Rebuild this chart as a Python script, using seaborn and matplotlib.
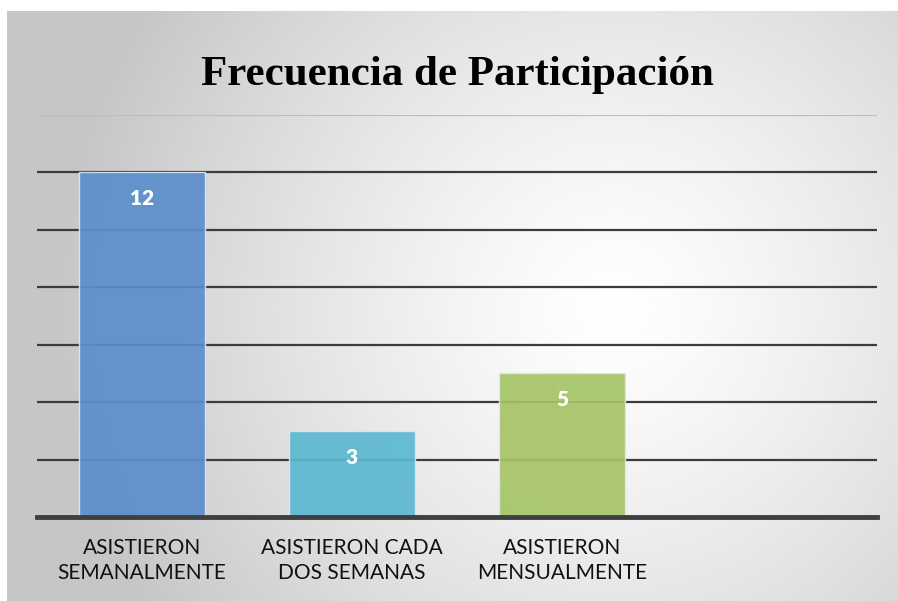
import numpy as np
import pandas as pd
import seaborn as sb
from matplotlib import pyplot as plt

# data
categorias = ["ASISTIERON\nSEMANALMENTE", "ASISTIERON CADA\nDOS SEMANAS", "ASISTIERON\nMENSUALMENTE"]
frecuencia = [12, 3, 5]
colores = ["#5B8DCA", "#5BB8D0", "#A5C466"]
yticks = [2, 4, 6, 8, 10, 12, 14]

titulo = "Frecuencia de Participación"


def fondo_degradado(fig):
    # radial grey -> white background like the office chart style
    bg = fig.add_axes([7 / 898, 0, 1 - 7 / 898, 590 / 601], zorder=-10)
    h, w = 300, 450
    yy, xx = np.mgrid[0:h, 0:w]
    cx, cy = 0.68 * w, 0.50 * h
    r = np.sqrt(((xx - cx) / w) ** 2 + ((yy - cy) / h * 0.66) ** 2)
    r = np.clip(r / 0.62, 0, 1)
    val = 1.0 - 0.22 * r ** 1.3
    img = np.dstack([val, val, val])
    bg.imshow(img, aspect="auto", extent=(0, 1, 0, 1))
    bg.set_axis_off()


def main():
    df = pd.DataFrame({"categoria": categorias, "frecuencia": frecuencia})

    fig = plt.figure(figsize=(8.98, 6.01), dpi=100)
    fondo_degradado(fig)

    ax = fig.add_axes([37 / 898, (601 - 517) / 601, 840 / 898, (517 - 115) / 601])
    ax.patch.set_alpha(0)

    # grid lines behind the bars
    for y in yticks:
        c = "#bdbdbd" if y == 14 else "#3c3c3c"
        ax.axhline(y, color=c, linewidth=1.6, zorder=0)

    sb.barplot(
        data=df, x="categoria", y="frecuencia", hue="categoria",
        palette=colores, width=0.6, legend=False, ax=ax, saturation=1,
        edgecolor="#dde7f3", linewidth=1.0, alpha=0.92, zorder=2,
    )

    ax.axhline(0, color="#3f3f3f", linewidth=3.5, zorder=3, clip_on=False)

    ax.set_xlim(-0.5, 3.5)
    ax.set_ylim(0, 14)
    ax.set_yticks([])
    ax.set_xlabel("")
    ax.set_ylabel("")
    for s in ax.spines.values():
        s.set_visible(False)

    ax.tick_params(axis="x", length=0, pad=15)
    for lab in ax.get_xticklabels():
        lab.set_fontfamily("Lato")
        lab.set_fontsize(15)
        lab.set_linespacing(1.35)
        lab.set_color("#111111")

    # value labels inside the top of each bar
    for p in ax.patches:
        if p.get_height() <= 0:
            continue
        ax.annotate(
            "%d" % p.get_height(), (p.get_x() + p.get_width() / 2., p.get_height()),
            xytext=(0, -19), textcoords="offset points", ha="center", va="center",
            fontsize=15, fontweight="heavy", family="Lato", color="white", zorder=5,
        )

    fig.text(457 / 898, (601 - 85) / 601, titulo, ha="center", va="baseline",
             fontsize=31, fontweight="bold", family="Liberation Serif", color="black")

    plt.savefig("out.png", dpi=100)


if __name__ == "__main__":
    main()
